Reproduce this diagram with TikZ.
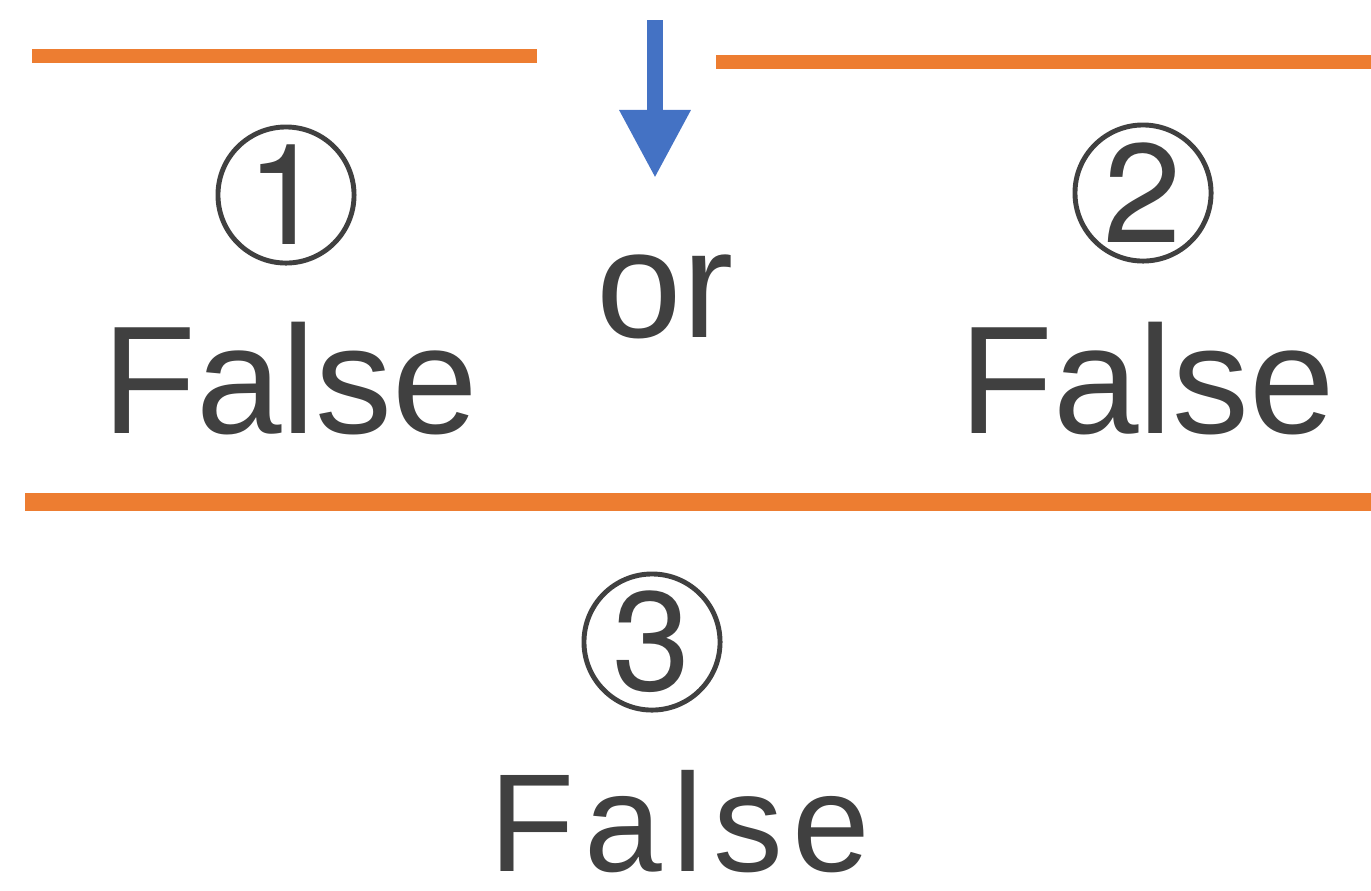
\documentclass[tikz,border=0pt]{standalone}
\usepackage{fontspec}
\setmainfont{Liberation Sans}
\newfontfamily\digitfont{TeX Gyre Heros}
\usepackage{tikz}
\usetikzlibrary{positioning, arrows.meta}
\usepackage{xcolor}
\definecolor{barorange}{HTML}{ED7D31}
\definecolor{arrblue}{HTML}{4472C4}
\definecolor{txtgray}{HTML}{404040}

\begin{document}
\begin{tikzpicture}[x=0.01cm, y=-0.01cm, every node/.style={font=\fontsize{43.7}{46}\selectfont, text=txtgray}]
  \tikzstyle{numcirc} = [circle, draw=txtgray, line width=1.4pt, minimum size=1.36cm, inner sep=0pt, font=\digitfont\fontsize{40}{42}\selectfont]
  \tikzstyle{word} = [anchor=base, inner sep=0pt, text depth=0pt]
  \tikzstyle{bar} = [barorange, line width=4pt]
  \tikzstyle{arrow} = [arrblue, line width=4.5pt, -{Triangle[length=0.68cm, width=0.67cm]}]

  \useasboundingbox (0,0) rectangle (1371,890);

  % bars
  \coordinate (topA) at (32,56);
  \coordinate (topB) at (537,56);
  \coordinate (topC) at (716,62);
  \coordinate (topD) at (1371,62);
  \coordinate (midA) at (25,502);
  \coordinate (midB) at (1371,502);
  \draw [bar] (topA) -- (topB);
  \draw [bar] (topC) -- (topD);
  \draw [bar, line width=5pt] (midA) -- (midB);

  % arrow
  \coordinate (arrtop) at (655,20);
  \coordinate (arrtip) at (655,178);
  \draw [arrow] (arrtop) -- (arrtip);

  % premises
  \node (one) [numcirc] at (286,195) {1};
  \node (falseone) [word] at (290,433) {False};
  \node (or) [word] at (665,337) {or};
  \node (two) [numcirc] at (1143,193) {2};
  \node (falsetwo) [word] at (1147,433) {False};

  % result
  \node (three) [numcirc] at (652,642) {3};
  \node (falsethree) [word, font=\addfontfeature{LetterSpace=7}\fontsize{39.7}{42}\selectfont] at (680,871) {False};
\end{tikzpicture}
\end{document}
